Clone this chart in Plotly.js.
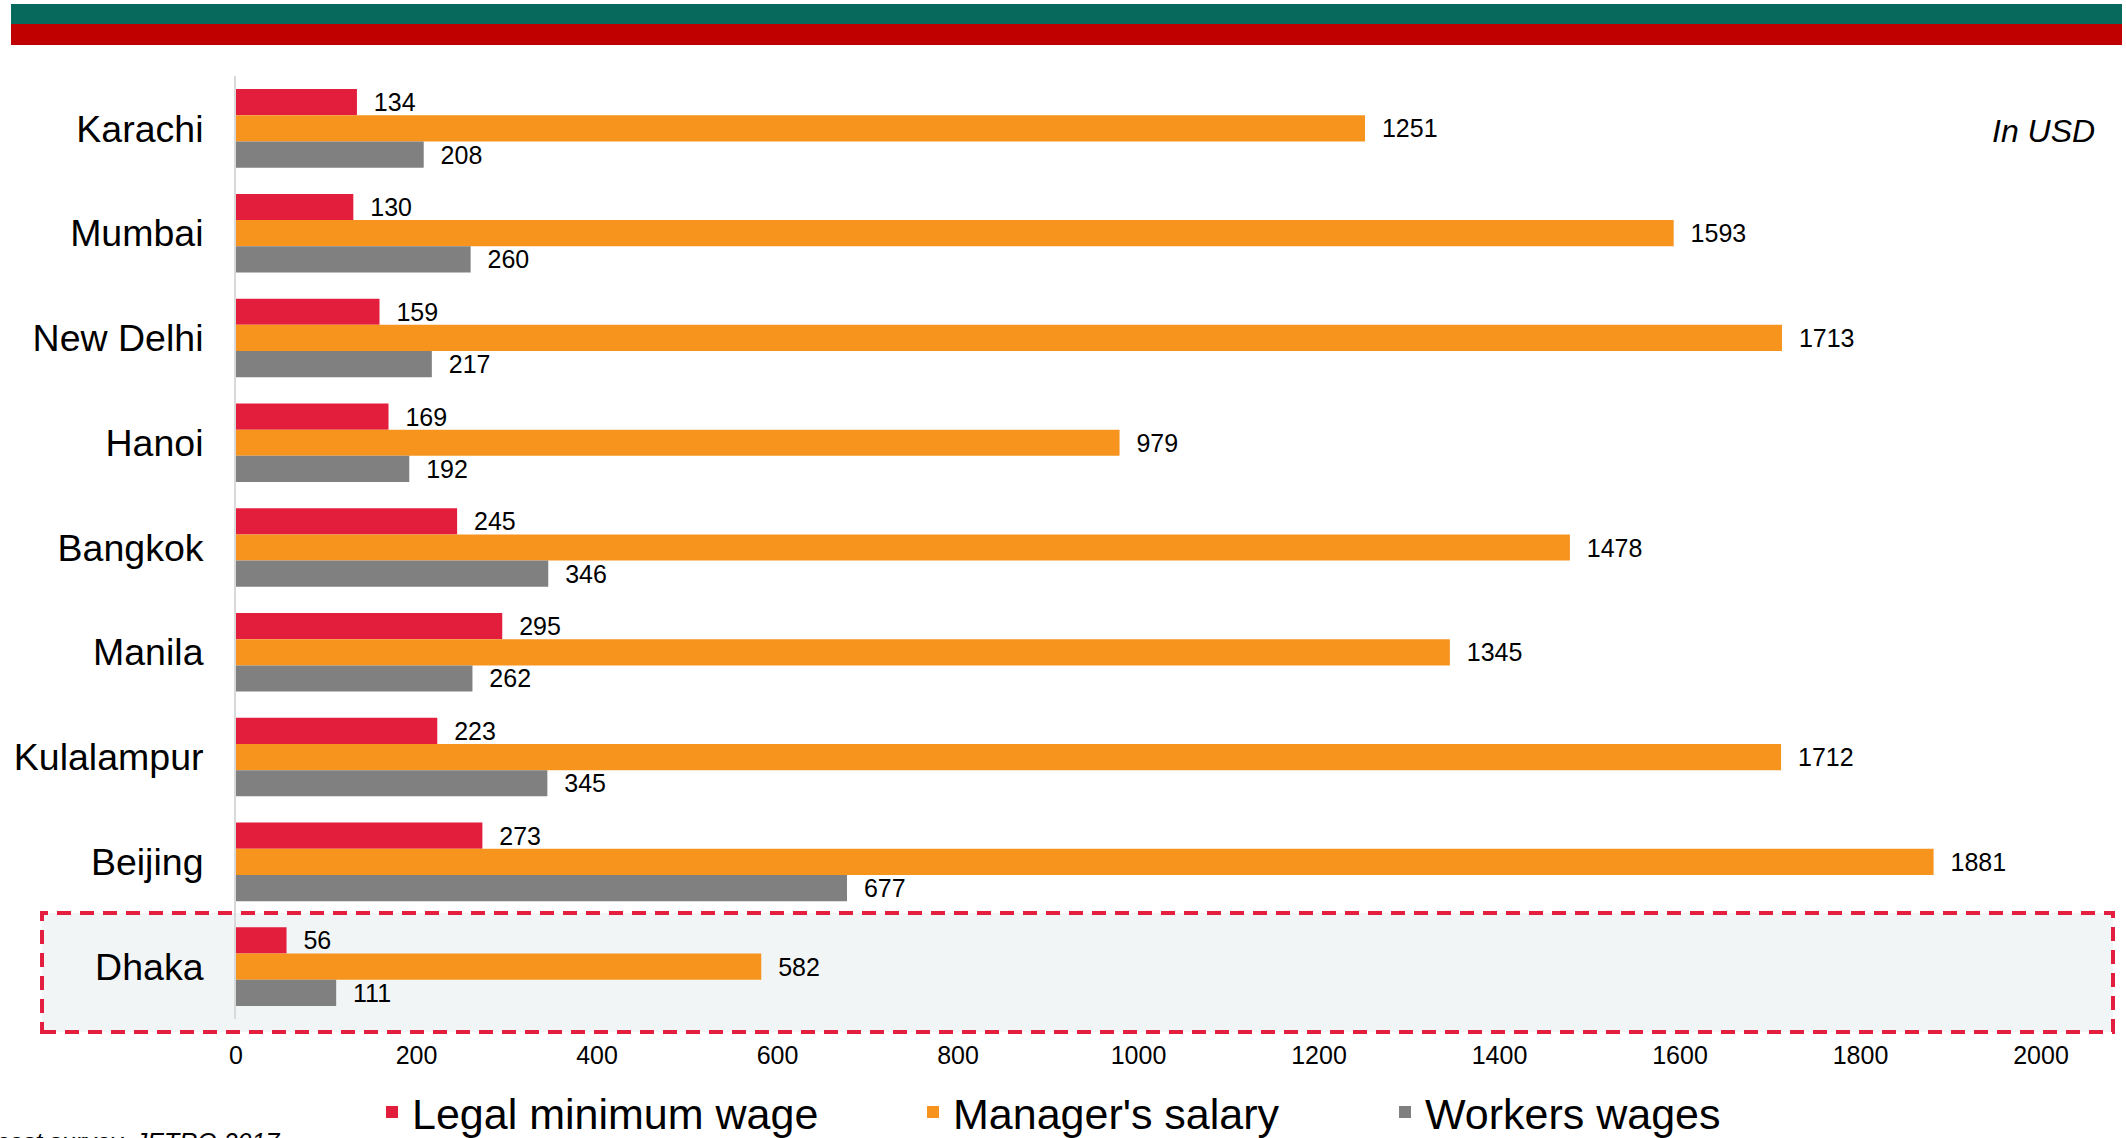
<!DOCTYPE html>
<html><head><meta charset="utf-8">
<script src="https://cdn.plot.ly/plotly-3.0.1.min.js"></script>
<style>html,body{margin:0;padding:0;background:#fff;overflow:hidden}#chart{width:2126px;height:1138px;}</style>
</head><body><div id="chart"></div>
<script>
const cities = ["Karachi","Mumbai","New Delhi","Hanoi","Bangkok","Manila","Kulalampur","Beijing","Dhaka"];
const legalMinimumWage = [134,130,159,169,245,295,223,273,56];
const managersSalary = [1251,1593,1713,979,1478,1345,1712,1881,582];
const workersWages = [208,260,217,192,346,262,345,677,111];
const seriesNames = ["Legal minimum wage","Manager's salary","Workers wages"];
const xTickValues = [0,200,400,600,800,1000,1200,1400,1600,1800,2000];
const unitNote = "In USD";
const sourceNote = "Source: Investment cost survey, JETRO 2017";

const FONT = "Liberation Sans, Arial, sans-serif";
const colors = ["#E31D3C", "#F7941E", "#808080"];
const series = [legalMinimumWage, managersSalary, workersWages];
const legendWidths = [496, 427, 300];

const traces = series.map((vals, i) => ({
  type: "bar",
  orientation: "h",
  name: seriesNames[i],
  y: cities,
  x: vals,
  marker: {color: colors[i], line: {width: 0}},
  text: vals.map(String),
  texttemplate: "\u00a0\u00a0%{x}",
  textposition: "outside",
  constraintext: "none",
  cliponaxis: false,
  textfont: {family: FONT, size: 25, color: "#000"},
  legendwidth: legendWidths[i],
  hoverinfo: "x+name"
}));

const W = 2126, H = 1138;
const L = 236, R = 85, T = 76, B = 119;
const pw = W - L - R, ph = H - T - B;
const px = x => (x - L) / pw;
const py = y => (H - B - y) / ph;

const layout = {
  width: W, height: H,
  margin: {l: L, r: R, t: T, b: B, autoexpand: false},
  paper_bgcolor: "#fff", plot_bgcolor: "rgba(0,0,0,0)",
  barmode: "group", bargap: 0.25, bargroupgap: 0,
  font: {family: FONT, color: "#000"},
  xaxis: {
    range: [0, 2000], tickvals: xTickValues, showgrid: false, zeroline: false,
    showline: false, ticks: "", ticklabelstandoff: 19,
    tickfont: {family: FONT, size: 25, color: "#000"}
  },
  yaxis: {
    type: "category", range: [8.5, -0.5], showgrid: false, zeroline: false,
    showline: true, linecolor: "#D9D9D9", linewidth: 2, ticks: "", ticklabelstandoff: 23,
    tickfont: {family: FONT, size: 37.5, color: "#000"}
  },
  showlegend: true,
  legend: {
    orientation: "h", x: px(372), xanchor: "left", y: py(1112), yanchor: "middle",
    font: {family: FONT, size: 43, color: "#000"}, bgcolor: "rgba(0,0,0,0)",
    traceorder: "normal"
  },
  shapes: [
    {type: "rect", xref: "paper", yref: "paper", x0: px(11), x1: px(2122), y0: py(24), y1: py(4),
     fillcolor: "#07695C", line: {width: 0}, layer: "below"},
    {type: "rect", xref: "paper", yref: "paper", x0: px(11), x1: px(2122), y0: py(45), y1: py(24),
     fillcolor: "#C00000", line: {width: 0}, layer: "below"},
    {type: "rect", xref: "paper", yref: "paper", x0: px(42), x1: px(2113), y0: py(1032), y1: py(913),
     fillcolor: "#F2F5F6", line: {color: "#E41E3F", width: 4, dash: "14px,9px"}, layer: "below"}
  ],
  annotations: [
    {xref: "paper", yref: "paper", x: px(2097), y: py(131), xanchor: "right", yanchor: "middle",
     text: "<i>" + unitNote + "</i>", showarrow: false, font: {family: FONT, size: 32, color: "#000"}},
    {xref: "paper", yref: "paper", x: px(282), y: py(1142), xanchor: "right", yanchor: "middle",
     text: "<i>" + sourceNote + "</i>", showarrow: false, font: {family: FONT, size: 25, color: "#000"}}
  ]
};

Plotly.newPlot("chart", traces, layout, {displayModeBar: false, staticPlot: true});
</script>
</body></html>
